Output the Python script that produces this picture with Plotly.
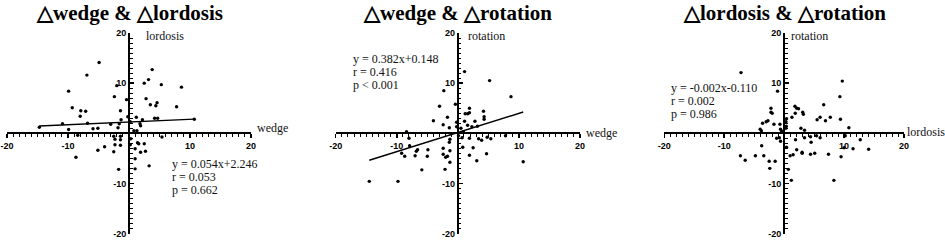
import plotly.graph_objects as go

# ---------------- data ----------------
wedge_p1 = [-4.9, -6.9, -9.9, -9.3, -7.9, -7.1, -8.0, -2.0, -2.4, -0.4, -1.4, 3.8, 3.2, 2.5, 5.3, 8.6,
            2.8, 3.5, 4.6, 4.4, 7.8, -1.3, -0.2, 1.2, 2.2, 4.2, 4.7, -10.9, -6.8, -3.0, -1.6, 0.2,
            1.8, 1.9, -14.7, -9.9, -5.9, -5.1, -1.8, 0.8, 1.3, -8.4, -2.5, -1.4, 5.4, -2.3, -1.4,
            0.3, 1.4, 1.6, 0.2, 2.5, -4.0, -5.1, -2.5, 1.0, 1.9, 2.7, -8.7, 1.0, 3.3, -1.7, 1.0,
            -2.3, -1.4, 10.7]
lordosis_p1 = [14.1, 11.6, 8.4, 5.1, 4.5, 4.4, 3.4, 9.5, 7.3, 6.7, 4.5, 12.7, 10.7, 10.0, 9.7, 9.2,
               6.9, 5.7, 6.1, 5.5, 5.3, 2.7, 3.3, 3.2, 2.7, 3.0, 3.0, 1.9, 2.0, 1.8, 1.9, 2.3,
               1.9, 1.5, 1.2, 0.75, 0.9, 1.0, 1.1, 0.5, 0.5, -0.4, -0.6, -0.6, -0.75, -1.2, -1.3,
               -1.1, -1.9, -2.1, -2.3, -2.1, -2.7, -3.4, -3.7, -3.1, -3.8, -3.6, -4.8, -5.1, -6.5, -7.2, -7.1,
               -2.3, -2.4, 2.8]

wedge_p2 = [1.1, 5.2, -2.3, 8.7, -3.0, -0.4, 1.2, 1.6, 1.9, 1.9, 4.2, -1.7, 4.3, 4.3, -4.0, -2.4,
            -1.4, -0.2, -0.2, 1.1, 1.6, 2.8, 2.3, 3.2, 0.5, 0.9, -8.4, -1.1, 0.1, -8.0, -1.3, 0.7,
            1.9, 3.4, 3.9, 4.8, 5.4, 7.8, 0.8, 2.5, 1.9, 4.7, 3.1, -7.9, -6.6, -6.8, -9.2, -8.7,
            -7.0, -4.9, -5.0, -2.4, -2.4, -2.0, -1.7, -1.3, -1.3, -1.4, -5.9, -2.1, -14.5, -9.8, 10.7]
rotation_p2 = [12.3, 10.5, 8.5, 7.3, 5.4, 5.8, 3.9, 3.9, 4.1, 5.0, 4.4, 3.2, 3.3, 2.8, 2.5, 1.7,
               1.1, 2.2, 1.3, 2.4, 1.6, 2.4, 1.3, 1.4, 1.0, 0.3, 0.3, -0.1, -0.5, -1.0, -1.2, -0.9,
               -1.0, -1.1, -1.4, -0.8, -1.1, -0.5, -2.8, -2.9, -4.4, -4.1, -5.5, -2.5, -3.3, -3.6, -4.0, -4.6,
               -4.5, -3.3, -4.6, -3.0, -4.2, -4.8, -4.6, -3.5, -5.8, -1.8, -7.3, -7.2, -9.6, -9.6, -5.7]

lordosis_p3 = [-7.2, 9.7, -1.1, 9.3, 6.6, -2.2, -2.2, -2.0, 1.8, 2.1, 1.85, 2.4, 3.1, 3.2, 1.3, 5.5,
               6.0, 6.9, 7.7, 9.4, -3.6, -3.0, -2.7, -1.7, -0.7, 0.3, 0.4, -4.0, -3.8, -0.6, -0.4, 0.35,
               0.3, 2.8, 3.4, 10.8, -1.25, -0.8, -0.6, 1.9, 3.4, 4.4, 5.4, 6.0, 10.2, 4.5, 12.7, 0.4,
               -3.75, 10.0, 11.5, 14.1, 2.1, 3.0, 3.0, 4.4, 5.1, 7.4, 9.5, 1.0, 1.5, -7.3, -6.5, -4.8,
               -3.4, -2.5, -1.5, -2.4, 0.7, 1.2, 8.3]
rotation_p3 = [12.1, 10.4, 8.4, 7.3, 5.7, 5.0, 4.2, 4.0, 5.4, 5.0, 4.0, 4.9, 4.2, 3.8, 3.2, 2.7,
               3.2, 2.5, 3.2, 2.8, 2.0, 2.3, 2.5, 1.8, 1.8, 2.3, 2.9, 0.8, 0.5, 0.8, 0.4, 1.4,
               1.0, 1.0, 0.6, 1.1, -1.0, -0.9, -1.6, -1.3, -0.9, -0.7, -0.5, -0.9, -0.5, -1.8, -1.3, -2.8,
               -2.5, -2.9, -3.1, -3.2, -3.3, -3.8, -4.0, -4.2, -4.0, -4.2, -4.7, -4.5, -4.3, -4.5, -5.4, -4.5,
               -4.5, -5.6, -5.6, -7.0, -7.2, -9.4, -9.4]

titles = ["△wedge & △lordosis", "△wedge & △rotation", "△lordosis & △rotation"]
x_names = ["wedge", "wedge", "lordosis"]
y_names = ["lordosis", "rotation", "rotation"]
fits = [(0.054, 2.246), (0.382, 0.148), None]
stats = [["y = 0.054x+2.246", "r = 0.053", "p = 0.662"],
         ["y = 0.382x+0.148", "r = 0.416", "p < 0.001"],
         ["y = -0.002x-0.110", "r = 0.002", "p = 0.986"]]
tick_vals = [-20, -10, 10, 20]

xs = [wedge_p1, wedge_p2, lordosis_p3]
ys = [lordosis_p1, rotation_p2, rotation_p3]

# ---------------- layout ----------------
W, H = 945, 240
x_domains = [(7, 251), (335.7, 580), (664.3, 904)]
y_dom = [(H - 233.5) / H, (H - 33) / H]
y_mid = (y_dom[0] + y_dom[1]) / 2

stat_pos = [(6.8, -6.2), (-17.5, 14.9), (-19.2, 9.1)]
xlabel_shift = [(4, 5), (4, 0), (1, 1)]
ylabel_shift = [15, 8, 5]

fig = go.Figure()
annotations = []
layout = {}
for i in range(3):
    sfx = "" if i == 0 else str(i + 1)
    xa, ya = "x" + sfx, "y" + sfx
    fig.add_trace(go.Scatter(x=xs[i], y=ys[i], mode="markers", xaxis=xa, yaxis=ya,
                             marker=dict(color="black", size=3.4), showlegend=False,
                             hoverinfo="skip"))
    if fits[i] is not None:
        m, b = fits[i]
        x0, x1 = min(xs[i]), max(xs[i])
        fig.add_trace(go.Scatter(x=[x0, x1], y=[m * x0 + b, m * x1 + b], mode="lines",
                                 xaxis=xa, yaxis=ya, line=dict(color="black", width=1.4),
                                 showlegend=False, hoverinfo="skip"))
    d0, d1 = x_domains[i]
    xdom = [d0 / W, d1 / W]
    x_mid = (xdom[0] + xdom[1]) / 2
    tickfont = dict(family="Liberation Sans", size=9, color="black", weight="bold")
    layout["xaxis" + sfx] = dict(
        domain=xdom, range=[-20, 20], anchor="free", position=y_mid, automargin=False,
        tickmode="array", tickvals=tick_vals, ticktext=[str(v) for v in tick_vals],
        ticks="outside", ticklen=4, tickwidth=1.5, tickcolor="black",
        minor=dict(tickmode="linear", tick0=0, dtick=1, ticks="outside", ticklen=2.5,
                   tickwidth=1, tickcolor="black", showgrid=False),
        showline=True, linecolor="black", linewidth=2, showgrid=False, zeroline=False,
        tickfont=tickfont, fixedrange=True)
    layout["yaxis" + sfx] = dict(
        domain=y_dom, range=[-20, 20], anchor="free", position=x_mid, automargin=False,
        tickmode="array", tickvals=tick_vals, ticktext=[str(v) for v in tick_vals],
        ticks="inside", ticklen=4, tickwidth=1.5, tickcolor="black",
        minor=dict(tickmode="linear", tick0=0, dtick=1, ticks="inside", ticklen=2.5,
                   tickwidth=1, tickcolor="black", showgrid=False),
        showline=True, linecolor="black", linewidth=2, showgrid=False, zeroline=False,
        tickfont=tickfont, fixedrange=True)

    # title
    annotations.append(dict(text=titles[i], xref="paper", yref="paper",
                            x=x_mid, y=(H - 13) / H, xanchor="center", yanchor="middle",
                            showarrow=False,
                            font=dict(family="Liberation Serif", size=21, color="black",
                                      weight="bold")))
    lab_font = dict(family="Liberation Serif", size=12, color="#111")
    # x label
    annotations.append(dict(text=x_names[i], xref=xa, yref=ya, x=20, y=0,
                            xanchor="left", yanchor="middle", showarrow=False,
                            xshift=xlabel_shift[i][0], yshift=xlabel_shift[i][1], font=lab_font))
    # y label
    annotations.append(dict(text=y_names[i], xref=xa, yref=ya, x=0, y=20,
                            xanchor="left", yanchor="middle", showarrow=False,
                            xshift=ylabel_shift[i], yshift=-3, font=lab_font))
    # stats
    sx, sy = stat_pos[i]
    for k, line in enumerate(stats[i]):
        annotations.append(dict(text=line, xref=xa, yref=ya, x=sx, y=sy,
                                xanchor="left", yanchor="middle", showarrow=False,
                                yshift=-13 * k, font=lab_font))

fig.update_layout(width=W, height=H, margin=dict(l=0, r=0, t=0, b=0),
                  paper_bgcolor="white", plot_bgcolor="white",
                  annotations=annotations, **layout)
fig.write_html("out.html", config={"displayModeBar": False, "staticPlot": True},
               post_script="document.body.style.margin='0';document.body.style.overflow='hidden';")
